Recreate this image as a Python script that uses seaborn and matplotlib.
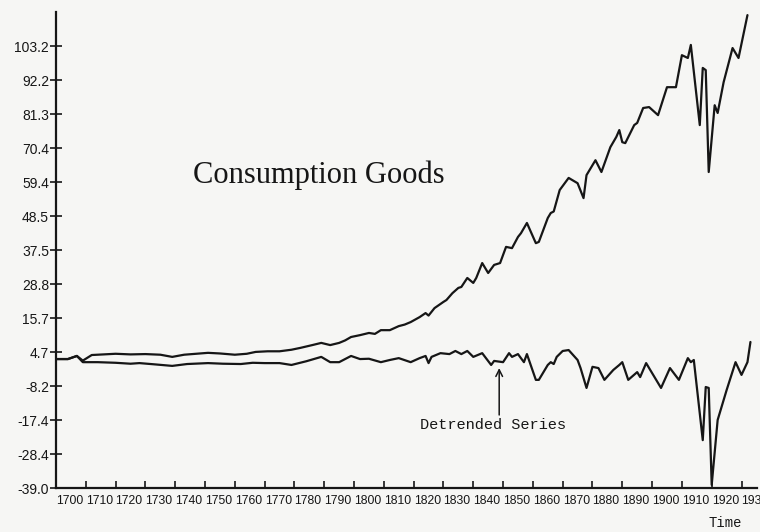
import numpy as np
import matplotlib.pyplot as plt
import seaborn as sns

sns.set_theme(style="ticks")
plt.rcParams['font.family'] = ['Liberation Sans Narrow', 'Liberation Sans', 'DejaVu Sans']

# consumption goods series
goods_years = [1700, 1704, 1707, 1709, 1712, 1716, 1720, 1725, 1730, 1735, 1739, 1743,
               1747, 1751, 1755, 1760, 1764, 1767, 1771, 1775, 1779, 1782, 1786, 1789,
               1792, 1795, 1797, 1799, 1802, 1805, 1807, 1809, 1812, 1815, 1817, 1819,
               1822, 1824, 1825, 1827, 1830, 1831, 1833, 1835, 1836, 1838, 1840, 1841,
               1843, 1845, 1847, 1849, 1851, 1853, 1855, 1856, 1858, 1861, 1862, 1865,
               1866, 1867, 1869, 1872, 1875, 1877, 1878, 1881, 1883, 1886, 1888, 1889,
               1890, 1891, 1894, 1895, 1897, 1899, 1902, 1905, 1908, 1910, 1912, 1913,
               1916, 1917, 1918, 1919, 1921, 1922, 1924, 1927, 1929, 1932]
goods = [2.5, 2.5, 3.5, 2.0, 3.8, 4.0, 4.2, 4.0, 4.1, 3.9, 3.2, 3.9,
         4.2, 4.5, 4.3, 3.9, 4.2, 4.8, 5.0, 5.0, 5.5, 6.1, 7.0, 7.7,
         7.0, 7.7, 8.5, 9.6, 10.2, 10.9, 10.6, 11.8, 11.8, 13.1, 13.6, 14.4,
         16.0, 17.3, 16.5, 18.9, 20.9, 21.5, 23.7, 25.4, 25.7, 28.6, 27.0, 28.6,
         33.4, 30.2, 32.8, 33.4, 38.6, 38.2, 41.8, 43.0, 46.3, 39.8, 40.2, 47.9,
         49.5, 50.0, 56.9, 60.8, 59.1, 54.3, 61.7, 66.5, 62.7, 70.7, 74.0, 76.2,
         72.3, 72.0, 77.8, 78.5, 83.3, 83.6, 81.0, 90.0, 90.0, 100.3, 99.4, 103.6,
         77.8, 96.2, 95.5, 62.7, 84.2, 81.7, 91.6, 102.6, 99.4, 113.2]

# detrended series
detr_years = [1700, 1704, 1707, 1709, 1714, 1720, 1725, 1728, 1733, 1739, 1744, 1751,
              1756, 1762, 1766, 1770, 1775, 1779, 1784, 1789, 1792, 1795, 1799, 1802,
              1805, 1809, 1812, 1815, 1819, 1822, 1824, 1825, 1826, 1829, 1832, 1834,
              1836, 1838, 1840, 1843, 1846, 1847, 1850, 1852, 1853, 1855, 1857, 1858,
              1861, 1862, 1865, 1866, 1867, 1868, 1870, 1872, 1875, 1876, 1878, 1880,
              1882, 1884, 1887, 1889, 1890, 1892, 1895, 1896, 1898, 1900, 1903, 1906,
              1909, 1912, 1913, 1914, 1917, 1918, 1919, 1920, 1922, 1925, 1928, 1930,
              1932, 1933]
detrended = [2.5, 2.5, 3.5, 1.5, 1.5, 1.3, 1.0, 1.2, 0.8, 0.3, 0.9, 1.2,
             1.0, 0.9, 1.3, 1.2, 1.2, 0.6, 1.8, 3.2, 1.5, 1.5, 3.5, 2.5,
             2.6, 1.5, 2.2, 2.8, 1.5, 2.8, 3.5, 1.2, 3.2, 4.4, 4.1, 5.1,
             4.1, 5.1, 3.2, 4.4, 0.6, 1.9, 1.5, 4.4, 3.2, 4.1, 1.5, 4.1,
             -4.2, -4.2, 0.6, 1.5, 0.9, 3.2, 5.1, 5.4, 2.2, -0.4, -6.8, 0.0,
             -0.4, -4.2, -1.0, 0.6, 1.5, -4.2, -1.7, -3.3, 1.2, -2.0, -6.8, -0.4,
             -4.2, 2.8, 1.5, 2.2, -23.6, -6.5, -6.8, -38.0, -17.1, -7.5, 1.5, -2.6,
             1.5, 8.0]

ytick_labels = ['-39.0', '-28.4', '-17.4', '-8.2', '4.7', '15.7', '28.8', '37.5',
                '48.5', '59.4', '70.4', '81.3', '92.2', '103.2']
xtick_years = list(range(1700, 1931, 10))

ink = '#161616'
paper = '#f6f6f4'

fig = plt.figure(figsize=(7.6, 5.32), dpi=100, facecolor=paper)
ax = fig.add_axes([56 / 760, 44 / 532, 701 / 760, 476 / 532], facecolor=paper)

sns.lineplot(x=goods_years, y=goods, ax=ax, color=ink, lw=1.6)
sns.lineplot(x=detr_years, y=detrended, ax=ax, color=ink, lw=1.6)

ax.set_xlim(1700, 1935.2)
ax.set_ylim(-39.0, 114.2)

sns.despine(ax=ax)
for side in ['left', 'bottom']:
    ax.spines[side].set_linewidth(1.6)
    ax.spines[side].set_color(ink)

ax.set_yticks(np.linspace(-39.0, 103.2, len(ytick_labels)))
ax.set_yticklabels(ytick_labels, family=['Liberation Sans', 'DejaVu Sans'], fontsize=10, color=ink)
ax.set_xticks(xtick_years)
ax.set_xticklabels([str(y) for y in xtick_years], fontsize=8.8, color=ink, ha='left')
ax.tick_params(axis='y', direction='inout', length=8, width=1.2, pad=1, colors=ink)
ax.tick_params(axis='x', direction='in', length=5, width=1.2, pad=5, colors=ink)

ax.text(1746, 59.1, 'Consumption Goods', family=['Liberation Serif', 'DejaVu Serif'],
        fontsize=22, color=ink, va='baseline', ha='left')
ax.text(1822, -18.7, 'Detrended Series', family=['Liberation Mono', 'DejaVu Sans Mono'],
        fontsize=11, color=ink, va='center', ha='left')
ax.annotate('', xy=(1848.7, -0.4), xytext=(1848.7, -15.5),
            arrowprops=dict(arrowstyle='->', color=ink, lw=1.1, shrinkA=0, shrinkB=0))
fig.text(725 / 760, 1 - 523 / 532, 'Time', fontsize=10, color=ink, ha='center', va='center',
         family=['Liberation Mono', 'DejaVu Sans Mono'])

fig.savefig('out.png', dpi=100, facecolor=paper)
